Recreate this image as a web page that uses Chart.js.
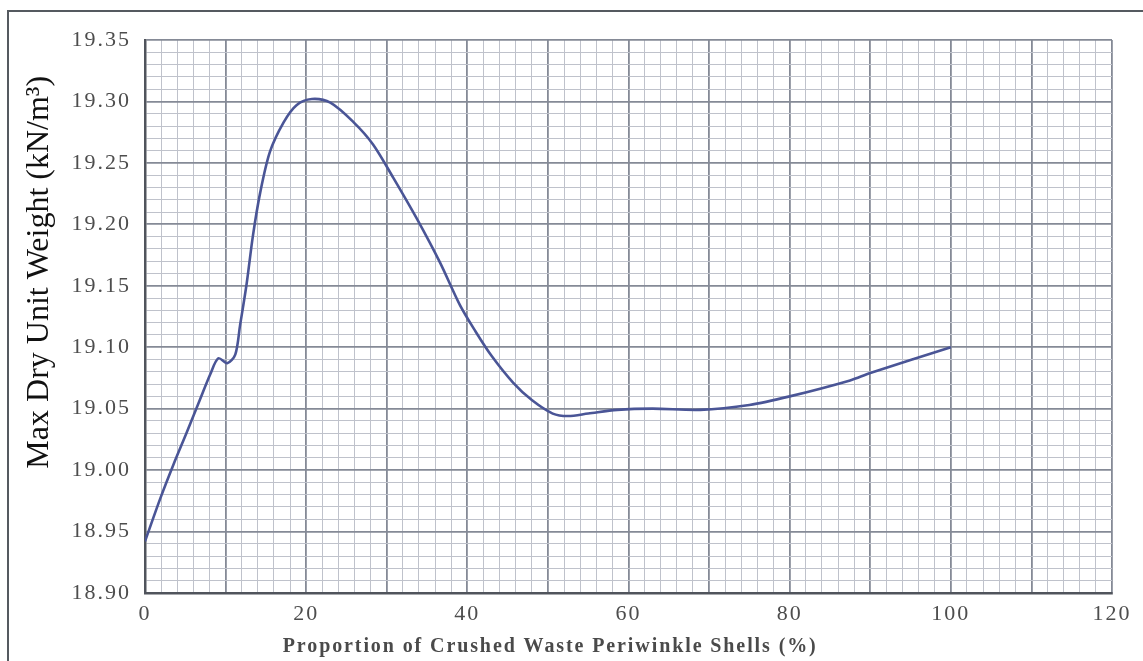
<!DOCTYPE html>
<html lang="en">
<head>
    <meta charset="UTF-8">
    <title>Max Dry Unit Weight vs Periwinkle Shells</title>
    <script src="https://cdn.jsdelivr.net/npm/chart.js"></script>
    <style>
        html, body { margin: 0; padding: 0; background: #fff; }
        #wrap { position: relative; width: 1143px; height: 661px; overflow: hidden; }
        #frame { position: absolute; left: 7px; top: 10px; width: 1200px; height: 700px;
                 border-left: 2px solid #555a60; border-top: 2px solid #555a60; pointer-events: none; }
        canvas { position: absolute; left: 0; top: 0; }
    </style>
</head>
<body>
<div id="wrap">
    <canvas id="mduwChart" width="1143" height="661"></canvas>
    <div id="frame"></div>
</div>
<script>
    // values (x = % shells, y = kN/m3)
    const shellPct = [0, 1.9, 3.5, 5.2, 6.8, 8.1, 9.1, 10.2, 11.2, 11.8, 12.6, 13.4, 14.3, 15.5, 17.2,
                      18.8, 20.7, 23, 25.9, 28.3, 30.8, 33.7, 36.6, 39.1, 41, 43, 45.7, 48, 50.6,
                      52.5, 55, 58.6, 63, 68.9, 75, 80, 87.5, 90, 100];
    const dryWeight = [18.942, 18.977, 19.004, 19.031, 19.057, 19.078, 19.091, 19.087, 19.094, 19.118,
                       19.151, 19.191, 19.226, 19.259, 19.283, 19.297, 19.302, 19.299, 19.283, 19.265,
                       19.238, 19.205, 19.169, 19.134, 19.113, 19.093, 19.071, 19.057, 19.046,
                       19.044, 19.046, 19.049, 19.05, 19.049, 19.053, 19.06, 19.073, 19.079, 19.1];
    const xTickLabels = [0, 20, 40, 60, 80, 100, 120];
    const yTickLabels = ['18.90', '18.95', '19.00', '19.05', '19.10', '19.15', '19.20', '19.25', '19.30', '19.35'];

    const majorGrid = '#858a96';
    const minorGrid = '#bfc2cb';

    const axisTitles = {
        id: 'axisTitles',
        beforeDraw(chart) {
            chart.ctx.letterSpacing = '2px';
        },
        afterDraw(chart) {
            const { ctx, chartArea: a } = chart;
            ctx.save();
            ctx.letterSpacing = '0px';
            ctx.fillStyle = '#111';
            ctx.font = '32px "Liberation Serif"';
            ctx.textAlign = 'center';
            ctx.textBaseline = 'middle';
            ctx.translate(40, a.top + (a.bottom - a.top) * 0.42);
            ctx.rotate(-Math.PI / 2);
            ctx.fillText('Max Dry Unit Weight (kN/m\u00B3)', 0, 0);
            ctx.restore();

            ctx.save();
            ctx.letterSpacing = '1.9px';
            ctx.fillStyle = '#4a4a4a';
            ctx.font = 'bold 20px "Liberation Serif"';
            ctx.textAlign = 'center';
            ctx.textBaseline = 'middle';
            ctx.fillText('Proportion of Crushed Waste Periwinkle Shells (%)',
                a.left + (a.right - a.left) * 0.419, 647);
            ctx.restore();
        }
    };

    const ctx = document.getElementById('mduwChart').getContext('2d');
    new Chart(ctx, {
        type: 'line',
        data: {
            datasets: [{
                data: shellPct.map((x, i) => ({ x: x, y: dryWeight[i] })),
                borderColor: '#4a5596',
                borderWidth: 2.6,
                pointRadius: 0,
                fill: false,
                tension: 0.3
            }]
        },
        options: {
            responsive: false,
            animation: false,
            layout: { padding: { top: 40, right: 31, left: 0, bottom: 0 } },
            plugins: { legend: { display: false }, tooltip: { enabled: false } },
            scales: {
                x: {
                    type: 'linear',
                    min: 0, max: 120,
                    afterFit(scale) { scale.height = 68; },
                    ticks: {
                        stepSize: 2,
                        autoSkip: false,
                        maxRotation: 0,
                        padding: 8,
                        color: '#4d4d4d',
                        font: { family: '"Liberation Serif"', size: 22 },
                        callback: v => xTickLabels.includes(v) ? String(v) : ''
                    },
                    grid: {
                        drawTicks: false,
                        color: c => c.tick && c.tick.value % 10 === 0 ? majorGrid : minorGrid,
                        lineWidth: c => c.tick && c.tick.value % 10 === 0 ? 1.8 : 1
                    },
                    border: { color: '#50545c', width: 2.5 }
                },
                y: {
                    min: 18.9, max: 19.35,
                    afterFit(scale) { scale.width = 145; },
                    ticks: {
                        stepSize: 0.01,
                        autoSkip: false,
                        padding: 14,
                        color: '#4d4d4d',
                        font: { family: '"Liberation Serif"', size: 22 },
                        callback: v => {
                            const s = v.toFixed(2);
                            return yTickLabels.includes(s) ? s : '';
                        }
                    },
                    grid: {
                        drawTicks: false,
                        color: c => c.tick && Math.round(c.tick.value * 100) % 5 === 0 ? majorGrid : minorGrid,
                        lineWidth: c => c.tick && Math.round(c.tick.value * 100) % 5 === 0 ? 1.8 : 1
                    },
                    border: { color: '#50545c', width: 2.5 }
                }
            }
        },
        plugins: [axisTitles]
    });
</script>
</body>
</html>
